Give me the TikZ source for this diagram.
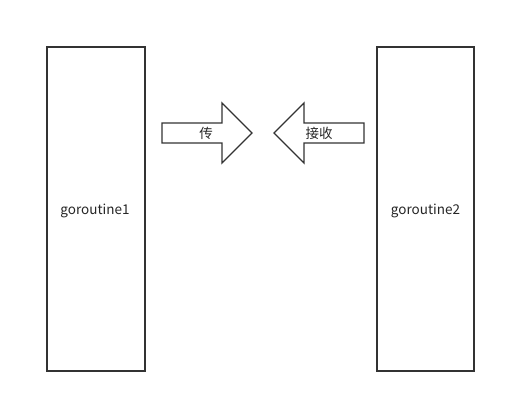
\documentclass[tikz,border=0pt]{standalone}
\usepackage{fontspec}
\setmainfont{Noto Sans CJK SC}
\begin{document}
\begin{tikzpicture}[x=1pt,y=-1pt,
  box/.style={draw=black!80,line width=1.5pt,fill=white},
  bigarrow/.style={draw=black!80,line width=1.3pt,line join=miter,fill=white},
  lbl/.style={font=\fontsize{13.5pt}{15pt}\selectfont,text=black!85,inner sep=0pt}]
\useasboundingbox (0,0) rectangle (506,403);
\draw[box] (47,47) rectangle (145,371);
\node[lbl] (g1) at (95,211) {goroutine1};
\draw[box] (377,47) rectangle (474,371);
\node[lbl] (g2) at (425.5,211) {goroutine2};
\draw[bigarrow] (162,123) -- (222,123) -- (222,103) -- (252,133) -- (222,163) -- (222,143) -- (162,143) -- cycle;
\node[lbl] (send) at (206,133) {传};
\draw[bigarrow] (364,123) -- (304,123) -- (304,103) -- (274,133) -- (304,163) -- (304,143) -- (364,143) -- cycle;
\node[lbl] (recv) at (319,133) {接收};
\end{tikzpicture}
\end{document}
